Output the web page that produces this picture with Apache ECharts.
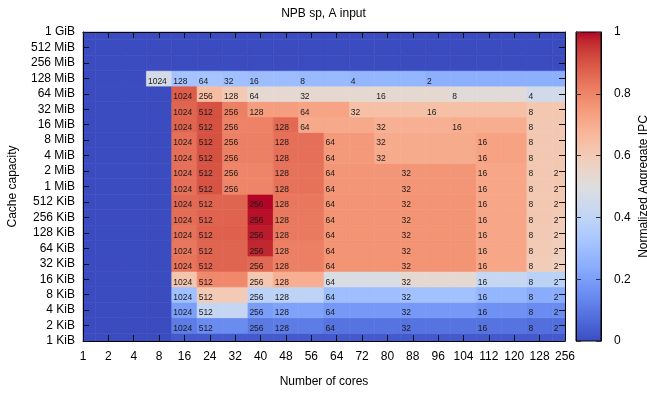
<!DOCTYPE html>
<html>
<head>
<meta charset="utf-8">
<script src="https://cdn.jsdelivr.net/npm/echarts@6/dist/echarts.min.js"></script>
<style>
html, body { margin: 0; padding: 0; background: #fff; }
#chart { width: 647px; height: 393px; }
</style>
</head>
<body>
<div id="chart"></div>
<script>
var cores = ['1', '2', '4', '8', '16', '24', '32', '40', '48', '56', '64', '72', '80', '88', '96', '104', '112', '120', '128', '256'];
var capacities = ['1 KiB', '2 KiB', '4 KiB', '8 KiB', '16 KiB', '32 KiB', '64 KiB', '128 KiB', '256 KiB', '512 KiB',
                  '1 MiB', '2 MiB', '4 MiB', '8 MiB', '16 MiB', '32 MiB', '64 MiB', '128 MiB', '256 MiB', '512 MiB', '1 GiB'];

// normalized aggregate IPC, one value per core count (same order as cores)
var ipc_1KiB   = [0, 0, 0, 0, .03, .03, .03, .03, .03, .03, .03, .03, .03, .03, .03, .03, .03, .03, .03, .03];
var ipc_2KiB   = [0, 0, 0, 0, .11, .15, .15, .105, .11, .11, .09, .09, .09, .09, .09, .09, .09, .09, .08, .08];
var ipc_4KiB   = [0, 0, 0, 0, .20, .415, .415, .195, .21, .21, .185, .185, .185, .185, .185, .185, .165, .165, .15, .15];
var ipc_8KiB   = [0, 0, 0, 0, .305, .60, .60, .39, .395, .395, .30, .30, .30, .31, .31, .31, .27, .27, .24, .24];
var ipc_16KiB  = [0, 0, 0, 0, .62, .79, .79, .615, .695, .695, .48, .48, .48, .53, .53, .53, .42, .42, .385, .385];
var ipc_32KiB  = [0, 0, 0, 0, .835, .865, .865, .855, .81, .81, .765, .765, .765, .765, .765, .765, .72, .72, .595, .58];
var ipc_64KiB  = [0, 0, 0, 0, .83, .865, .865, .97, .81, .81, .765, .765, .765, .765, .765, .765, .72, .72, .60, .59];
var ipc_128KiB = [0, 0, 0, 0, .84, .875, .875, .98, .825, .825, .765, .765, .765, .765, .765, .765, .72, .72, .605, .595];
var ipc_256KiB = [0, 0, 0, 0, .85, .87, .87, .99, .825, .825, .765, .765, .765, .765, .765, .765, .72, .72, .61, .60];
var ipc_512KiB = [0, 0, 0, 0, .855, .865, .865, 1.0, .83, .83, .765, .765, .765, .765, .765, .765, .72, .72, .61, .61];
var ipc_1MiB   = [0, 0, 0, 0, .845, .90, .80, .80, .84, .84, .76, .76, .76, .76, .76, .76, .72, .72, .61, .615];
var ipc_2MiB   = [0, 0, 0, 0, .845, .90, .80, .80, .84, .84, .76, .76, .76, .76, .76, .76, .72, .72, .61, .615];
var ipc_4MiB   = [0, 0, 0, 0, .845, .905, .81, .81, .845, .845, .75, .75, .705, .705, .705, .705, .73, .73, .61, .61];
var ipc_8MiB   = [0, 0, 0, 0, .845, .905, .81, .81, .845, .845, .75, .75, .705, .705, .705, .705, .73, .73, .61, .61];
var ipc_16MiB  = [0, 0, 0, 0, .865, .905, .805, .805, .855, .71, .71, .71, .69, .69, .69, .70, .70, .70, .61, .61];
var ipc_32MiB  = [0, 0, 0, 0, .865, .905, .81, .74, .74, .725, .725, .64, .64, .64, .64, .64, .64, .64, .615, .615];
var ipc_64MiB  = [0, 0, 0, 0, .88, .65, .605, .53, .53, .53, .53, .53, .53, .53, .53, .51, .51, .51, .45, .45];
var ipc_128MiB = [0, 0, 0, .47, .315, .32, .305, .295, .295, .285, .285, .27, .27, .27, .25, .25, .25, .25, .25, .25];
var ipc_256MiB = [0, 0, 0, 0, 0, 0, 0, 0, 0, 0, 0, 0, 0, 0, 0, 0, 0, 0, 0, 0];
var ipc_512MiB = [0, 0, 0, 0, 0, 0, 0, 0, 0, 0, 0, 0, 0, 0, 0, 0, 0, 0, 0, 0];
var ipc_1GiB   = [0, 0, 0, 0, 0, 0, 0, 0, 0, 0, 0, 0, 0, 0, 0, 0, 0, 0, 0, 0];

var ipcRows = [ipc_1KiB, ipc_2KiB, ipc_4KiB, ipc_8KiB, ipc_16KiB, ipc_32KiB, ipc_64KiB, ipc_128KiB, ipc_256KiB, ipc_512KiB,
               ipc_1MiB, ipc_2MiB, ipc_4MiB, ipc_8MiB, ipc_16MiB, ipc_32MiB, ipc_64MiB, ipc_128MiB, ipc_256MiB, ipc_512MiB, ipc_1GiB];

// cell annotations: [core column, text], written where the value changes along a row
var sets_KiB    = [[4, '1024'], [5, '512'], [7, '256'], [8, '128'], [10, '64'], [13, '32'], [16, '16'], [18, '8'], [19, '2']];
var sets_1_2MiB = [[4, '1024'], [5, '512'], [6, '256'], [8, '128'], [10, '64'], [13, '32'], [16, '16'], [18, '8'], [19, '2']];
var sets_4_8MiB = [[4, '1024'], [5, '512'], [6, '256'], [8, '128'], [10, '64'], [12, '32'], [16, '16'], [18, '8']];
var sets_16MiB  = [[4, '1024'], [5, '512'], [6, '256'], [8, '128'], [9, '64'], [12, '32'], [15, '16'], [18, '8']];
var sets_32MiB  = [[4, '1024'], [5, '512'], [6, '256'], [7, '128'], [9, '64'], [11, '32'], [14, '16'], [18, '8']];
var sets_64MiB  = [[4, '1024'], [5, '256'], [6, '128'], [7, '64'], [9, '32'], [12, '16'], [15, '8'], [18, '4']];
var sets_128MiB = [[3, '1024'], [4, '128'], [5, '64'], [6, '32'], [7, '16'], [9, '8'], [11, '4'], [14, '2']];

var labelRows = [[], sets_KiB, sets_KiB, sets_KiB, sets_KiB, sets_KiB, sets_KiB, sets_KiB, sets_KiB, sets_KiB,
                 sets_1_2MiB, sets_1_2MiB, sets_4_8MiB, sets_4_8MiB, sets_16MiB, sets_32MiB, sets_64MiB, sets_128MiB, [], [], []];

var coolwarm = ['#3b4cc0', '#445acc', '#4d68d7', '#5775e1', '#6282ea', '#6c8ef1', '#779af7', '#82a5fb', '#8db0fe', '#98b9ff',
                '#a3c2ff', '#aec9fd', '#b8d0f9', '#c2d5f4', '#ccd9ee', '#d5dbe6', '#dddddd', '#e5d8d1', '#ecd3c5', '#f1ccb8',
                '#f5c4ac', '#f7bba0', '#f7b194', '#f7a687', '#f49a7b', '#f18d6f', '#ec7f63', '#e57058', '#de604d', '#d55042',
                '#cb3e38', '#c0282f', '#b40426'];

var FONT = 'Liberation Sans, Arial, Helvetica, sans-serif';

var cells = [];
ipcRows.forEach(function (row, r) {
    row.forEach(function (v, c) { cells.push([c, r, v]); });
});
var labelItems = [];
labelRows.forEach(function (list, r) {
    list.forEach(function (l) { labelItems.push({ c: l[0], r: r, t: l[1] }); });
});

function clipToGrid(rect, params) {
    return echarts.graphic.clipRectByRect(rect, {
        x: params.coordSys.x, y: params.coordSys.y,
        width: params.coordSys.width, height: params.coordSys.height
    });
}

function renderCell(params, api) {
    var c = api.value(0), r = api.value(1);
    var a = api.coord([c - 0.5, r + 0.5]);
    var b = api.coord([c + 0.5, r - 0.5]);
    var shape = clipToGrid({ x: a[0], y: a[1], width: b[0] - a[0], height: b[1] - a[1] }, params);
    if (!shape) return;
    var col = api.visual('color');
    return { type: 'rect', shape: shape, style: { fill: col, stroke: col, lineWidth: 0.6 } };
}

function renderLabel(params, api) {
    var item = labelItems[params.dataIndex];
    var p = api.coord([api.value(0) - 0.5, api.value(1)]);
    return {
        type: 'text', x: p[0] + 1.5, y: p[1] + 3,
        style: { text: item.t, fill: '#1a1a1a', font: '8.5px ' + FONT, align: 'left', verticalAlign: 'middle' }
    };
}

function renderColorbar(params, api) {
    var a = api.coord([0, 1]);
    var b = api.coord([1, 0]);
    var stops = coolwarm.map(function (c, i) { return { offset: i / (coolwarm.length - 1), color: c }; });
    return {
        type: 'rect',
        shape: { x: a[0], y: a[1], width: b[0] - a[0], height: b[1] - a[1] },
        style: { fill: new echarts.graphic.LinearGradient(0, 1, 0, 0, stops), stroke: '#000', lineWidth: 1 }
    };
}

var axisText = { color: '#000', fontSize: 12, fontFamily: FONT };
var edge = { show: true, onZero: false, lineStyle: { color: '#000', width: 1 } };
var tick = { show: true, inside: true, length: 6, lineStyle: { color: '#111', width: 1 } };
var barTick = { show: true, inside: true, length: 5, lineStyle: { color: '#333', width: 1 } };

var myChart = echarts.init(document.getElementById('chart'));

option = {
    animation: false,
    title: {
        text: 'NPB sp, A input',
        left: 'center', top: 3,
        textStyle: { color: '#000', fontSize: 12, fontWeight: 'normal', fontFamily: FONT }
    },
    grid: [
        { left: 83, top: 32, right: 82, bottom: 52, outerBoundsMode: 'none', containLabel: false },
        { left: 576, top: 32, width: 25, bottom: 52, outerBoundsMode: 'none', containLabel: false }
    ],
    visualMap: {
        type: 'continuous', show: false, min: 0, max: 1, dimension: 2, seriesIndex: 0,
        inRange: { color: coolwarm }
    },
    xAxis: [
        {
            type: 'value', gridIndex: 0, min: 0, max: 19, interval: 1, position: 'bottom', z: 5,
            axisLine: edge, axisTick: tick, splitLine: { show: false },
            axisLabel: Object.assign({ margin: 10, showMinLabel: true, showMaxLabel: true,
                formatter: function (v) { return cores[v]; } }, axisText),
            name: 'Number of cores', nameLocation: 'middle', nameGap: 35, nameTextStyle: axisText
        },
        {
            type: 'value', gridIndex: 0, min: 0, max: 19, interval: 1, position: 'top', z: 5,
            axisLine: edge, axisTick: tick, splitLine: { show: false }, axisLabel: { show: false }
        },
        { type: 'value', gridIndex: 1, min: 0, max: 1, show: false }
    ],
    yAxis: [
        {
            type: 'value', gridIndex: 0, min: 0, max: 20, interval: 1, position: 'left', z: 5,
            axisLine: edge, axisTick: tick, splitLine: { show: false },
            axisLabel: Object.assign({ margin: 8, showMinLabel: true, showMaxLabel: true,
                formatter: function (v) { return capacities[v]; } }, axisText),
            name: 'Cache capacity', nameLocation: 'middle', nameRotate: 90, nameGap: 64,
            nameMoveOverlap: false, nameTextStyle: axisText
        },
        {
            type: 'value', gridIndex: 0, min: 0, max: 20, interval: 1, position: 'right', z: 5,
            axisLine: edge, axisTick: tick, splitLine: { show: false }, axisLabel: { show: false }
        },
        {
            type: 'value', gridIndex: 1, min: 0, max: 1, interval: 0.2, position: 'right', z: 5,
            axisLine: edge, axisTick: barTick, splitLine: { show: false },
            axisLabel: Object.assign({ margin: 13 }, axisText),
            name: 'Normalized Aggregate IPC', nameLocation: 'middle', nameRotate: 90, nameGap: 37,
            nameMoveOverlap: false, nameTextStyle: axisText
        },
        {
            type: 'value', gridIndex: 1, min: 0, max: 1, interval: 0.2, position: 'left', z: 5,
            axisLine: edge, axisTick: barTick, splitLine: { show: false }, axisLabel: { show: false }
        }
    ],
    series: [
        {
            type: 'custom', xAxisIndex: 0, yAxisIndex: 0, renderItem: renderCell,
            dimensions: ['x', 'y', 'ipc'], encode: { x: 0, y: 1 }, data: cells
        },
        {
            type: 'custom', xAxisIndex: 0, yAxisIndex: 0, renderItem: renderLabel, z: 3,
            encode: { x: 0, y: 1 },
            data: labelItems.map(function (l) { return [l.c, l.r]; })
        },
        {
            type: 'custom', xAxisIndex: 2, yAxisIndex: 2, renderItem: renderColorbar,
            encode: { x: 0, y: 1 }, data: [[0, 0]]
        }
    ]
};

myChart.setOption(option);
</script>
</body>
</html>
